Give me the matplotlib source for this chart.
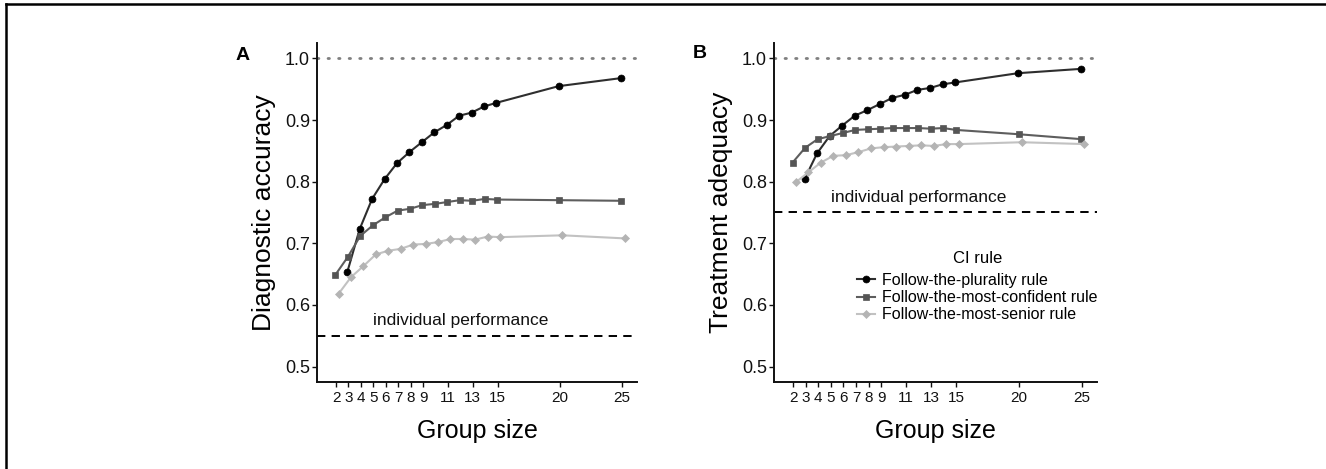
import numpy as np
import matplotlib
matplotlib.use("Agg")
import matplotlib.pyplot as plt
from matplotlib.lines import Line2D

plt.rcParams['font.family'] = ['Liberation Sans', 'DejaVu Sans']

# ---------------- data ----------------
group_sizes = [2, 3, 4, 5, 6, 7, 8, 9, 10, 11, 12, 13, 14, 15, 20, 25]
x_ticks = [2, 3, 4, 5, 6, 7, 8, 9, 11, 13, 15, 20, 25]
y_ticks = [0.5, 0.6, 0.7, 0.8, 0.9, 1.0]

rule_labels = ["Follow-the-plurality rule",
               "Follow-the-most-confident rule",
               "Follow-the-most-senior rule"]

acc_plurality = [np.nan, 0.653, 0.723, 0.772, 0.804, 0.830, 0.848, 0.864, 0.880,
                 0.892, 0.907, 0.912, 0.922, 0.928, 0.955, 0.968]
acc_confident = [0.649, 0.678, 0.712, 0.729, 0.742, 0.753, 0.756, 0.762, 0.764,
                 0.767, 0.770, 0.769, 0.772, 0.771, 0.770, 0.769]
acc_senior = [0.618, 0.645, 0.663, 0.682, 0.688, 0.691, 0.698, 0.699, 0.702,
              0.707, 0.707, 0.706, 0.711, 0.710, 0.713, 0.708]

trt_plurality = [np.nan, 0.804, 0.846, 0.874, 0.891, 0.907, 0.916, 0.926, 0.936,
                 0.941, 0.949, 0.952, 0.958, 0.961, 0.976, 0.983]
trt_confident = [0.831, 0.855, 0.869, 0.874, 0.879, 0.884, 0.885, 0.886, 0.887,
                 0.887, 0.887, 0.886, 0.887, 0.884, 0.877, 0.869]
trt_senior = [0.799, 0.815, 0.831, 0.842, 0.843, 0.848, 0.854, 0.856, 0.857,
              0.858, 0.859, 0.858, 0.861, 0.861, 0.864, 0.861]

individual_acc = 0.55
individual_trt = 0.75
optimum = 1.0

# ---------------- styles ----------------
styles = [
    dict(marker='o', ms=5.0, mfc='#000000', mec='#000000', color='#2e2e2e', dodge=-0.1),
    dict(marker='s', ms=4.2, mfc='#555555', mec='#555555', color='#5e5e5e', dodge=-0.05),
    dict(marker='D', ms=3.9, mfc='#b4b4b4', mec='#b4b4b4', color='#c2c2c2', dodge=0.2),
]

W, H = 1326, 469
fig = plt.figure(figsize=(W / 100, H / 100), dpi=100)
axA = fig.add_axes([317 / W, 1 - 382 / H, 320 / W, 339 / H])
axB = fig.add_axes([774 / W, 1 - 382 / H, 323 / W, 339 / H])


def draw(ax, series, indiv, ylabel):
    handles = []
    for vals, lab, st in zip(series, rule_labels, styles):
        xs = np.array(group_sizes, dtype=float) + st['dodge']
        h, = ax.plot(xs, vals, color=st['color'], lw=1.5, marker=st['marker'],
                     ms=st['ms'], mfc=st['mfc'], mec=st['mec'], mew=0.5,
                     label=lab, zorder=3)
        handles.append(h)
    ax.axhline(optimum, color='#7f7f7f', lw=2.0, linestyle=(0, (0.5, 3.3)),
               dash_capstyle='round', zorder=1)
    ax.axhline(indiv, color='#000000', lw=1.4, linestyle=(0, (4.3, 3.2)), zorder=1)
    ax.text(12, indiv + 0.025, "individual performance", ha='center', va='center',
            fontsize=12.5, color='#111111')
    ax.set_xlim(0.47, 26.2)
    ax.set_ylim(0.475, 1.025)
    ax.set_xticks(x_ticks)
    ax.set_xticklabels([str(t) for t in x_ticks])
    ax.set_yticks(y_ticks)
    ax.set_yticklabels([f"{t:.1f}" for t in y_ticks])
    for s in ['top', 'right']:
        ax.spines[s].set_visible(False)
    for s in ['left', 'bottom']:
        ax.spines[s].set_linewidth(1.4)
        ax.spines[s].set_color('#111111')
    ax.tick_params(axis='x', labelsize=11, pad=3, length=3.6, width=1.0, colors='#111111')
    ax.tick_params(axis='y', labelsize=13, pad=1.5, length=3.6, width=1.0, colors='#111111')
    ax.set_xlabel("Group size", fontsize=18, labelpad=10)
    ax.set_ylabel(ylabel, fontsize=19, labelpad=6)
    return handles


draw(axA, [acc_plurality, acc_confident, acc_senior], individual_acc, "Diagnostic accuracy")
hB = draw(axB, [trt_plurality, trt_confident, trt_senior], individual_trt, "Treatment adequacy")

fig.text(243 / W, 1 - 55 / H, "A", fontsize=14, fontweight='bold', ha='center', va='center')
fig.text(700 / W, 1 - 53 / H, "B", fontsize=14, fontweight='bold', ha='center', va='center')

leg = fig.legend(handles=hB, labels=rule_labels, loc='upper left',
                 bbox_to_anchor=(857 / W, 1 - 251 / H), bbox_transform=fig.transFigure,
                 frameon=False, borderpad=0, borderaxespad=0, fontsize=11.5,
                 title="CI rule", title_fontsize=12, handlelength=1.15,
                 handletextpad=0.4, labelspacing=0.14, numpoints=1)
leg._legend_box.sep = 5

# outer frame (left and top edges visible)
fig.add_artist(Line2D([5.5 / W, 5.5 / W], [0, 1 - 4.5 / H], transform=fig.transFigure,
                      color='black', lw=1.8))
fig.add_artist(Line2D([5.5 / W, 1], [1 - 4.5 / H, 1 - 4.5 / H], transform=fig.transFigure,
                      color='black', lw=1.8))

fig.savefig("out.png", dpi=100)
